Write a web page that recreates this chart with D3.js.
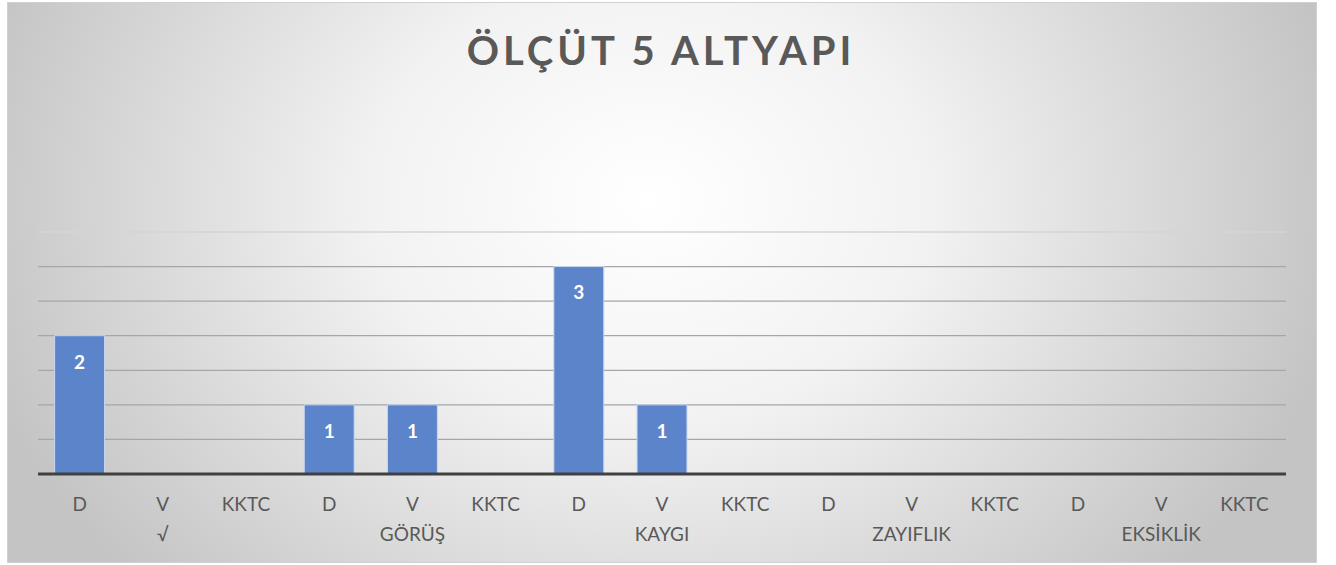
<!DOCTYPE html>
<html><head><meta charset="utf-8">
<script src="https://cdn.jsdelivr.net/npm/d3@7"></script>
<style>html,body{margin:0;padding:0;background:#fff;}svg{display:block;}</style>
</head><body>
<script>
const title = "ÖLÇÜT 5 ALTYAPI";
const groups = ["√", "GÖRÜŞ", "KAYGI", "ZAYIFLIK", "EKSİKLİK"];
const subCategories = ["D", "V", "KKTC"];
const values = [2, 0, 0, 1, 1, 0, 3, 1, 0, 0, 0, 0, 0, 0, 0];
const yTicks = [0, 0.5, 1, 1.5, 2, 2.5, 3, 3.5];

(function () {
const W = 1336, H = 565;
const svg = d3.select("body").append("svg").attr("width", W).attr("height", H);
const defs = svg.append("defs");
const rg = defs.append("radialGradient").attr("id", "bg")
  .attr("gradientUnits", "userSpaceOnUse")
  .attr("cx", 650).attr("cy", 200).attr("r", 700)
  .attr("gradientTransform", "translate(650,200) scale(1,0.8) translate(-650,-200)");
rg.append("stop").attr("offset", "0").attr("stop-color", "#ffffff");
rg.append("stop").attr("offset", "0.4").attr("stop-color", "#f2f2f2");
rg.append("stop").attr("offset", "1").attr("stop-color", "#c4c4c4");

svg.append("rect").attr("x", 7.5).attr("y", 2.5).attr("width", 1309).attr("height", 560)
  .attr("fill", "url(#bg)").attr("stroke", "#d0d0d0").attr("stroke-width", 1);

const cats = [];
groups.forEach((g, gi) => subCategories.forEach((s, si) => cats.push({id: gi + "_" + si, sub: s, group: g, gi})));
const data = cats.map((c, i) => ({...c, value: values[i]}));

const pl = 38, pr = 1286, pt = 232, pb = 474;
const x = d3.scaleBand().domain(cats.map(c => c.id)).range([pl, pr]).paddingInner(0.4).paddingOuter(0.2);
const y = d3.scaleLinear().domain([0, 3.5]).range([pb, pt]);

svg.append("g").selectAll("line").data(yTicks.filter(t => t > 0)).join("line")
  .attr("x1", pl).attr("x2", pr)
  .attr("y1", d => y(d)).attr("y2", d => y(d))
  .attr("stroke", d => d === 3.5 ? "#d4d4d4" : "#a6a6a6").attr("stroke-width", 1.3);

svg.append("g").selectAll("rect").data(data.filter(d => d.value > 0)).join("rect")
  .attr("x", d => x(d.id)).attr("width", x.bandwidth())
  .attr("y", d => y(d.value)).attr("height", d => y(0) - y(d.value))
  .attr("fill", "#5b84cb").attr("stroke", "#c9d6ee").attr("stroke-width", 1);

svg.append("g").selectAll("text").data(data.filter(d => d.value > 0)).join("text")
  .attr("x", d => x(d.id) + x.bandwidth() / 2)
  .attr("y", d => y(d.value) + 28)
  .attr("text-anchor", "middle").attr("dominant-baseline", "middle")
  .attr("font-family", "Lato, 'Open Sans', sans-serif").attr("font-weight", "bold")
  .attr("font-size", 19).attr("fill", "#ffffff").text(d => d.value);

const xAxis = svg.append("g").attr("transform", `translate(0,${pb})`)
  .call(d3.axisBottom(x).tickSize(0).tickPadding(0).tickFormat(id => cats.find(c => c.id === id).sub));
xAxis.select(".domain").attr("stroke", "#404040").attr("stroke-width", 3).attr("d", `M${pl},0H${pr}`);
xAxis.selectAll("text").attr("font-family", "Lato, 'Open Sans', sans-serif").attr("font-size", 19)
  .attr("fill", "#595959").attr("dy", null).attr("y", 32).attr("dominant-baseline", "middle");

svg.append("g").selectAll("text").data(groups).join("text")
  .attr("x", (g, gi) => x(gi + "_1") + x.bandwidth() / 2)
  .attr("y", 536).attr("text-anchor", "middle").attr("dominant-baseline", "middle")
  .attr("font-family", "Lato, 'Open Sans', sans-serif").attr("font-size", 19)
  .attr("fill", "#595959").text(d => d);

svg.append("text").attr("x", 661).attr("y", 55)
  .attr("text-anchor", "middle").attr("dominant-baseline", "middle")
  .attr("font-family", "Lato, 'Open Sans', sans-serif").attr("font-weight", "bold")
  .attr("font-size", 40).attr("letter-spacing", 4).attr("fill", "#595959").text(title);
})();
</script>
</body></html>
